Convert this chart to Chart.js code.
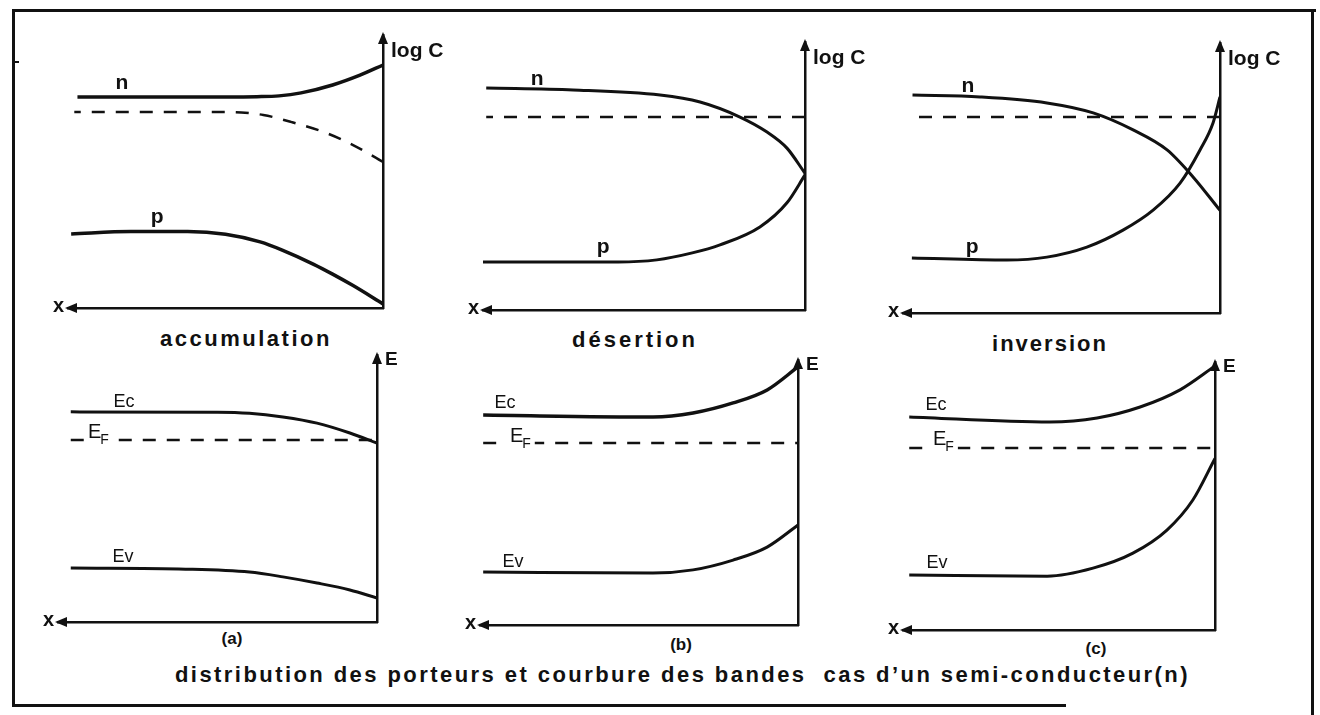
<!DOCTYPE html>
<html lang="fr">
<head>
<meta charset="UTF-8">
<meta name="viewport" content="width=device-width, initial-scale=1.0">
<title>Distribution des porteurs et courbure des bandes</title>
<script src="https://cdn.jsdelivr.net/npm/chart.js"></script>
<style>
  body { margin: 0; background: #fff; }
  #sheet { position: relative; width: 1320px; height: 715px; overflow: hidden; background: #fff;
           font-family: "Liberation Sans", Arial, sans-serif; color: #111; }
  .rule { position: absolute; background: #111; }
  .panel { position: absolute; }
  .t { position: absolute; white-space: nowrap; font-weight: bold; font-size: 22px; line-height: 22px; }
  .tag { position: absolute; width: 40px; text-align: center; font-weight: bold; font-size: 17px; line-height: 17px; }
</style>
</head>
<body>
<div id="sheet">
  <!-- frame -->
  <div class="rule" style="left:12px; top:9px; width:1304px; height:3px"></div>
  <div class="rule" style="left:12px; top:9px; width:3px; height:697px"></div>
  <div class="rule" style="left:1311px; top:9px; width:3px; height:706px"></div>
  <div class="rule" style="left:12px; top:704px; width:1054px; height:3px"></div>
  <div class="rule" style="left:12px; top:61px; width:7px; height:2px"></div>

  <div class="t" style="left:160px; top:328px" data-w="172">accumulation</div>
  <div class="t" style="left:572px; top:329px" data-w="126">désertion</div>
  <div class="t" style="left:992px; top:333px" data-w="116">inversion</div>
  <div class="tag" style="left:212px; top:630px">(a)</div>
  <div class="tag" style="left:661px; top:636px">(b)</div>
  <div class="tag" style="left:1076px; top:640px">(c)</div>
  <div class="t" style="left:175px; top:664px" data-w="1015">distribution des porteurs et courbure des bandes&nbsp; cas d’un semi-conducteur(n)</div>
</div>

<script>
// x = distance from the surface (0 at the surface, bulk towards the left), arbitrary units
// top row: log of the carrier concentrations, bottom row: band energies

// accumulation
const accN  = [[0, 8.9], [0.73, 8.53], [1.6, 8.17], [2.6, 7.88], [3.3, 7.77], [4, 7.74], [5, 7.73], [9.7, 7.73]];
const accNi = [[0, 5.35], [0.95, 5.97], [1.8, 6.41], [2.9, 6.81], [3.8, 7.07], [4.5, 7.16], [5.5, 7.18], [9.8, 7.18]];
const accP  = [[0, 0.15], [0.95, 0.82], [1.6, 1.24], [2.2, 1.6], [3.2, 2.12], [3.9, 2.42], [5, 2.7], [6.2, 2.8], [8, 2.8], [9.9, 2.71]];

// désertion
const depN  = [[0, 5.1], [0.56, 6.04], [1.18, 6.64], [2.02, 7.2], [3.26, 7.76], [4.5, 8.02], [7.2, 8.21], [9.9, 8.28]];
const depNi = [[0, 7.2], [9.9, 7.2]];
const depP  = [[0, 5.04], [0.56, 4.0], [1.4, 3.1], [2.64, 2.43], [3.5, 2.13], [4.6, 1.87], [5.8, 1.79], [10, 1.79]];

// inversion
const invN  = [[0, 3.8], [0.85, 5.04], [1.67, 6.04], [2.74, 6.78], [4.0, 7.41], [5.46, 7.78], [7.57, 8.0], [9.7, 8.07]];
const invNi = [[0, 7.26], [9.7, 7.26]];
const invP  = [[0, 8.0], [0.22, 7.04], [0.63, 6.04], [1.26, 4.81], [2.11, 3.81], [3.06, 3.07], [4.2, 2.44], [5.46, 2.07], [6.72, 1.96], [9.72, 2.04]];

// bands (a), (b), (c)
const bandAEc = [[0, 6.7], [0.85, 7.08], [1.88, 7.45], [2.95, 7.68], [4, 7.82], [5, 7.86], [9.6, 7.87]];
const bandAEf = [[9.6, 6.82], [0, 6.82]];
const bandAEv = [[0, 0.9], [0.85, 1.2], [1.88, 1.46], [2.95, 1.69], [4, 1.87], [6, 1.98], [9.6, 2.02]];

const bandBEc = [[0, 9.74], [0.97, 8.87], [2.04, 8.38], [3.3, 8.0], [4.56, 7.85], [9.9, 7.92]];
const bandBEf = [[9.9, 6.87], [0, 6.87]];
const bandBEv = [[0, 3.77], [0.97, 2.94], [2.04, 2.45], [3.3, 2.08], [4.56, 1.96], [9.9, 2.0]];

const bandCEc = [[0, 9.85], [1.12, 8.96], [2.4, 8.32], [3.78, 7.91], [5.29, 7.76], [9.8, 7.95]];
const bandCEf = [[9.8, 6.79], [0, 6.79]];
const bandCEv = [[0, 6.4], [0.71, 4.85], [1.54, 3.73], [2.63, 2.87], [3.91, 2.31], [5.38, 2.01], [9.8, 2.05]];

const INK = '#111';

function solid(pts, w) {
  return { data: pts.map(([x, y]) => ({ x, y })), borderColor: INK, borderWidth: w,
           pointRadius: 0, cubicInterpolationMode: 'monotone', fill: false };
}
function dashed(pts, curved) {
  return { data: pts.map(([x, y]) => ({ x, y })), borderColor: INK, borderWidth: 2.5,
           borderDash: [13, 11], pointRadius: 0, fill: false,
           cubicInterpolationMode: curved ? 'monotone' : 'default', tension: 0 };
}

// arrowheads, axis names and curve names
const decor = {
  id: 'decor',
  afterDatasetsDraw(chart, args, opts) {
    const { ctx, chartArea: a } = chart;
    const sx = chart.scales.x, sy = chart.scales.y;
    ctx.save();
    ctx.fillStyle = INK;
    ctx.beginPath();
    ctx.moveTo(a.right, a.top - 3);
    ctx.lineTo(a.right - 5, a.top + 9);
    ctx.lineTo(a.right + 5, a.top + 9);
    ctx.closePath();
    ctx.fill();
    ctx.beginPath();
    ctx.moveTo(a.left - 3, a.bottom);
    ctx.lineTo(a.left + 9, a.bottom - 5);
    ctx.lineTo(a.left + 9, a.bottom + 5);
    ctx.closePath();
    ctx.fill();

    ctx.textBaseline = 'middle';
    ctx.textAlign = 'left';
    ctx.font = opts.yFont;
    ctx.fillText(opts.yName, a.right + 8, a.top + opts.yDrop);
    ctx.textAlign = 'right';
    ctx.font = 'bold 20px "Liberation Sans"';
    ctx.fillText('x', a.left - 4, a.bottom - 2);

    ctx.textBaseline = 'alphabetic';
    for (const l of opts.labels) {
      const x = sx.getPixelForValue(l.d), y = sy.getPixelForValue(l.v);
      if (l.sub) {
        ctx.font = '20px "Liberation Sans"';
        const wE = ctx.measureText(l.t).width;
        ctx.font = '14px "Liberation Sans"';
        const wS = ctx.measureText(l.sub).width;
        ctx.fillStyle = '#fff';
        ctx.fillRect(x - 4, y - 16, wE + wS + 7, 26);
        ctx.fillStyle = INK;
        ctx.textAlign = 'left';
        ctx.font = '20px "Liberation Sans"';
        ctx.fillText(l.t, x, y);
        ctx.font = '14px "Liberation Sans"';
        ctx.fillText(l.sub, x + wE - 1, y + 6);
      } else {
        ctx.textAlign = 'center';
        ctx.font = l.font;
        ctx.fillText(l.t, x, y);
      }
    }
    ctx.restore();
  }
};

const LOG = { name: 'log C', font: 'bold 21px "Liberation Sans"', drop: 16 };
const ENE = { name: 'E', font: 'bold 19px "Liberation Sans"', drop: 5 };
const NP = 'bold 21px "Liberation Sans"';
const EB = '18px "Liberation Sans"';

const panels = [
  { box: [68, 35, 383, 308], axis: LOG,
    sets: [solid(accN, 3.5), dashed(accNi, true), solid(accP, 3.5)],
    labels: [{ t: 'n', d: 8.29, v: 8.02, font: NP }, { t: 'p', d: 7.17, v: 3.11, font: NP }] },
  { box: [483, 42, 805, 310], axis: LOG,
    sets: [solid(depN, 3), dashed(depNi, false), solid(depP, 3)],
    labels: [{ t: 'n', d: 8.32, v: 8.4, font: NP }, { t: 'p', d: 6.27, v: 2.13, font: NP }] },
  { box: [903, 43, 1220, 313], axis: LOG,
    sets: [solid(invN, 3), dashed(invNi, false), solid(invP, 3)],
    labels: [{ t: 'n', d: 7.95, v: 8.19, font: NP }, { t: 'p', d: 7.82, v: 2.22, font: NP }] },
  { box: [58, 355, 377, 622], axis: ENE,
    sets: [solid(bandAEc, 3), dashed(bandAEf, false), solid(bandAEv, 3)],
    labels: [{ t: 'Ec', d: 7.93, v: 8.05, font: EB }, { t: 'E', sub: 'F', d: 9.06, v: 6.89 },
             { t: 'Ev', d: 7.96, v: 2.25, font: EB }] },
  { box: [480, 360, 798, 625], axis: ENE,
    sets: [solid(bandBEc, 3.5), dashed(bandBEf, false), solid(bandBEv, 3)],
    labels: [{ t: 'Ec', d: 9.21, v: 8.19, font: EB }, { t: 'E', sub: 'F', d: 9.06, v: 6.9 },
             { t: 'Ev', d: 8.96, v: 2.19, font: EB }] },
  { box: [903, 362, 1215, 630], axis: ENE,
    sets: [solid(bandCEc, 3), dashed(bandCEf, false), solid(bandCEv, 3)],
    labels: [{ t: 'Ec', d: 8.94, v: 8.21, font: EB }, { t: 'E', sub: 'F', d: 9.04, v: 6.9 },
             { t: 'Ev', d: 8.91, v: 2.31, font: EB }] }
];

const PAD = { left: 40, right: 72, top: 14, bottom: 12 };
const sheet = document.getElementById('sheet');

function axisOpts(position, reverse) {
  return {
    type: 'linear', position, reverse, min: 0, max: 10,
    ticks: { display: false },
    grid: { display: false, drawTicks: false },
    border: { display: true, color: INK, width: 2.5 }
  };
}

panels.forEach(p => {
  const [x0, y0, x1, y1] = p.box;
  const wrap = document.createElement('div');
  wrap.className = 'panel';
  wrap.style.left = (x0 - PAD.left) + 'px';
  wrap.style.top = (y0 - PAD.top) + 'px';
  const canvas = document.createElement('canvas');
  canvas.width = x1 - x0 + PAD.left + PAD.right;
  canvas.height = y1 - y0 + PAD.top + PAD.bottom;
  canvas.style.width = canvas.width + 'px';
  canvas.style.height = canvas.height + 'px';
  wrap.appendChild(canvas);
  sheet.appendChild(wrap);

  new Chart(canvas, {
    type: 'line',
    data: { datasets: p.sets },
    options: {
      responsive: false,
      animation: false,
      devicePixelRatio: 1,
      layout: { padding: PAD, autoPadding: false },
      plugins: {
        legend: { display: false },
        tooltip: { enabled: false },
        decor: { yName: p.axis.name, yFont: p.axis.font, yDrop: p.axis.drop, labels: p.labels }
      },
      scales: { x: axisOpts('bottom', true), y: axisOpts('right', false) }
    },
    plugins: [decor]
  });
});

// spread the spaced-out captions over their measured widths
document.querySelectorAll('.t[data-w]').forEach(el => {
  el.style.letterSpacing = '0px';
  const w = el.getBoundingClientRect().width;
  const n = el.textContent.length;
  el.style.letterSpacing = ((+el.dataset.w - w) / n) + 'px';
});
</script>
</body>
</html>
